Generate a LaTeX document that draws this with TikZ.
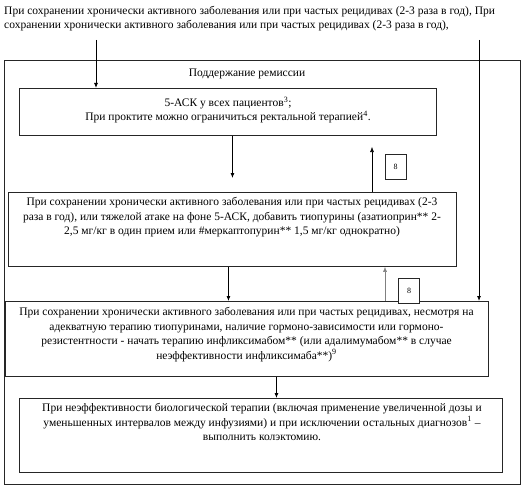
\documentclass[tikz,border=0pt]{standalone}
\usepackage{fontspec}
\setmainfont{Liberation Serif}
\usetikzlibrary{positioning, arrows.meta}

\begin{document}
\begin{tikzpicture}[x=1pt, y=-1pt, >={Latex[length=5pt,width=4pt]}, font=\fontsize{11.5}{14.4}\selectfont]
    % Stili
    \tikzstyle{box} = [draw=black!85, line width=0.9pt, rectangle, inner sep=0pt, anchor=north west]
    \tikzstyle{txt} = [align=center, inner sep=0pt, anchor=north]
    \tikzstyle{tag} = [draw=black!85, line width=0.8pt, fill=white, rectangle, inner sep=0pt, minimum width=21pt, minimum height=25pt, font=\fontsize{8}{9}\selectfont]
    \tikzstyle{link} = [->, line width=0.8pt]
    \tikzstyle{back} = [->, line width=0.5pt]

    \useasboundingbox (0,0) rectangle (529,489);

    % Nodi
    \node [anchor=north west, align=left, inner sep=0pt] (head) at (4,6) {При сохранении хронически активного заболевания или при частых рецидивах (2-3 раза в год), При\\сохранении хронически активного заболевания или при частых рецидивах (2-3 раза в год),};
    \coordinate (in1) at (96,40);
    \coordinate (in2) at (479,40);

    \node [box, minimum width=516pt, minimum height=424pt] (frame) at (4,60) {};
    \node [txt] (title) at (247,68.5) {Поддержание ремиссии};

    \node [box, minimum width=417pt, minimum height=47pt] (b1) at (19,88) {};
    \node [txt] (t1) at (228,96.5) {5-АСК у всех пациентов\textsuperscript{3};\\При проктите можно ограничиться ректальной терапией\textsuperscript{4}.};

    \node [box, minimum width=448pt, minimum height=74pt] (b2) at (8,192) {};
    \node [txt] (t2) at (232,197.5) {При сохранении хронически активного заболевания или при частых рецидивах (2-3\\раза в год), или тяжелой атаке на фоне 5-АСК, добавить тиопурины  (азатиоприн** 2-\\2,5 мг/кг в один прием или \#меркаптопурин** 1,5 мг/кг однократно)};

    \node [box, minimum width=483pt, minimum height=75pt] (b3) at (5,301) {};
    \node [txt] (t3) at (246.5,307.5) {При сохранении хронически активного заболевания или при частых рецидивах, несмотря на\\адекватную терапию тиопуринами, наличие гормоно-зависимости или гормоно-\\резистентности - начать терапию инфликсимабом** (или адалимумабом** в случае\\неэффективности инфликсимаба**)\textsuperscript{9}};

    \node [box, minimum width=483pt, minimum height=74pt] (b4) at (19,398) {};
    \node [txt] (t4) at (262,403.5) {При неэффективности биологической терапии (включая применение увеличенной дозы и\\уменьшенных интервалов между инфузиями) и при исключении остальных диагнозов\textsuperscript{1} –\\выполнить колэктомию.};

    \coordinate (up1) at (372,147);
    \coordinate (up2) at (385,268);
    \node [tag] (s1) at (395.5,166.5) {8};
    \node [tag] (s2) at (409,290.5) {8};

    % Collegamenti
    \draw [link] (in1) -- (in1 |- b1.north);
    \draw [link] (in2) -- (in2 |- b3.north);
    \draw [link, shorten >=14pt] (b1.south -| b2.north) -- (b2.north);
    \draw [link] ([xshift=-4pt]b2.south) -- ([xshift=-4pt]b2.south |- b3.north);
    \draw [link] ([xshift=29.5pt]b3.south) -- ([xshift=29.5pt]b3.south |- b4.north);
    \draw [back] (up1 |- b2.north) -- (up1);
    \draw [back, gray] (up2 |- b3.north) -- (up2 |- b2.south);
\end{tikzpicture}
\end{document}
